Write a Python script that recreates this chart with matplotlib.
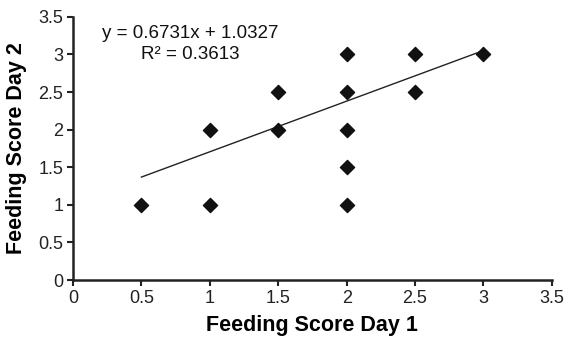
import numpy as np
import matplotlib.pyplot as plt

plt.rcParams['font.family'] = ['Liberation Sans', 'DejaVu Sans']

# feeding scores (day 1, day 2)
day1 = [0.5, 1, 1, 1.5, 1.5, 2, 2, 2, 2, 2, 2.5, 2.5, 3]
day2 = [1, 1, 2, 2, 2.5, 1, 1.5, 2, 2.5, 3, 2.5, 3, 3]
slope = 0.6731
intercept = 1.0327
r2 = 0.3613
ticks = [0, 0.5, 1, 1.5, 2, 2.5, 3, 3.5]

fig = plt.figure(figsize=(5.66, 3.37), dpi=100)
ax = fig.add_axes([0.129, 0.169, 0.846, 0.781])

ax.scatter(day1, day2, marker='D', s=52, color='#111111', zorder=3)
xl = np.array([min(day1), max(day1)])
ax.plot(xl, slope * xl + intercept, color='#222222', lw=1.0)

ax.text(0.855, 3.28, f"y = {slope}x + {intercept}", ha='center', va='center', fontsize=13.5, color='#111111')
ax.text(0.855, 3.0, f"R² = {r2}", ha='center', va='center', fontsize=13.5, color='#111111')

ax.set_xlim(0, 3.5)
ax.set_ylim(0, 3.5)
ax.set_xticks(ticks)
ax.set_yticks(ticks)
ax.set_xticklabels([f"{t:g}" for t in ticks])
ax.set_yticklabels([f"{t:g}" for t in ticks])
ax.tick_params(direction='out', length=4, width=1.5, labelsize=13, colors='#222222', pad=3)
for s in ['top', 'right']:
    ax.spines[s].set_visible(False)
for s in ['left', 'bottom']:
    ax.spines[s].set_linewidth(1.8)
    ax.spines[s].set_color('#222222')

ax.set_xlabel('Feeding Score Day 1', fontsize=15.5, fontweight='bold', labelpad=6)
ax.set_ylabel('Feeding Score Day 2', fontsize=15.5, fontweight='bold', labelpad=8)

fig.savefig('out.png', dpi=100)
